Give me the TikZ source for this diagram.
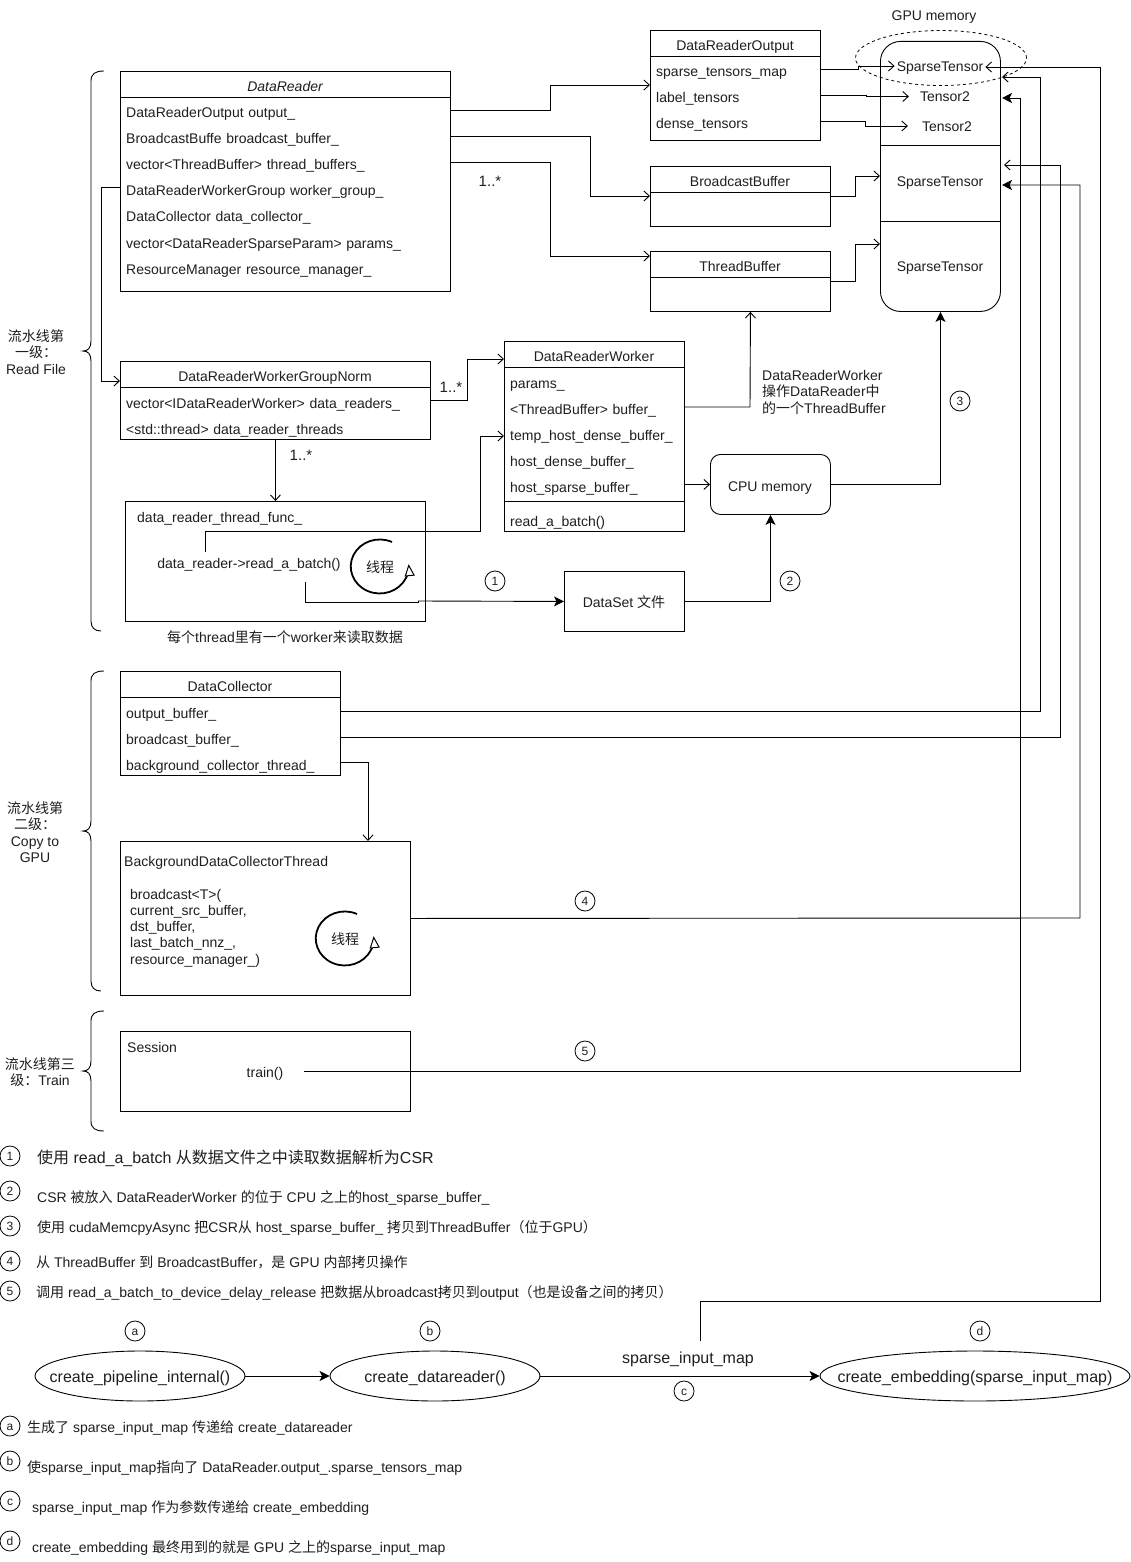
\documentclass[tikz,border=0pt]{standalone}
\usepackage{fontspec}
\setmainfont{Liberation Sans}
\newfontfamily\cjk{Noto Sans CJK SC}
\newcommand{\zh}[1]{{\cjk #1}}
\usetikzlibrary{arrows.meta,positioning,shapes.geometric}
\definecolor{ink}{gray}{0.12}
\tikzset{
  every node/.style={text=ink,font=\fontsize{14}{16.5}\selectfont,inner sep=0pt,text height=12pt,text depth=0pt},
  multiline/.style={text height=,text depth=},
  link/.style={draw=black,line width=0.9pt,-{Straight Barb[length=5.5pt,width=10pt,line width=0.9pt]}},
  solidlink/.style={draw=black,line width=0.9pt,-{Stealth[length=10pt,width=10pt,inset=2.5pt]}},
  plainline/.style={draw=black,line width=0.9pt},
  frame/.style={draw=black,line width=0.9pt,anchor=north west},
  row/.style={anchor=west,inner xsep=6pt,align=left,text width=#1},
  stepmark/.style={draw=black,line width=0.8pt,circle,minimum size=20pt,text height=8.5pt,font=\fontsize{12}{14}\selectfont},
  note/.style={anchor=west},
  oval/.style={draw=black,line width=0.9pt,ellipse,minimum height=50pt,font=\fontsize{16}{18}\selectfont},
  stagecap/.style={multiline,align=center},
  spinner/.style={line width=1.8pt,-{Triangle[open,fill=white,length=12pt,width=10pt,line width=1pt]}},
  cardinality/.style={font=\fontsize{15}{17}\selectfont},
}
\begin{document}
\begin{tikzpicture}[x=1pt,y=-1pt]
\useasboundingbox[fill=white] (0,0) rectangle (1131,1562);

% DataReader class
\node[frame,minimum width=330pt,minimum height=220pt] (dr) at (120,71) {};
\draw[plainline] (120,97) -- (450,97);
\node at (285,86) (drt) {\itshape DataReader};
\node[row=318pt] (dr1) at (120,112) {DataReaderOutput output\_};
\node[row=318pt] (dr2) at (120,138) {BroadcastBuffe broadcast\_buffer\_};
\node[row=318pt] (dr3) at (120,164) {vector<ThreadBuffer> thread\_buffers\_};
\node[row=318pt] (dr4) at (120,190) {DataReaderWorkerGroup worker\_group\_};
\node[row=318pt] (dr5) at (120,216) {DataCollector data\_collector\_};
\node[row=318pt] (dr6) at (120,242) {vector<DataReaderSparseParam> params\_};
\node[row=318pt] (dr7) at (120,268) {ResourceManager resource\_manager\_};
\node[cardinality] (m1) at (490,181) {1..*};

% DataReaderOutput class
\node[frame,minimum width=170pt,minimum height=110pt] (dro) at (650,30) {};
\draw[plainline] (650,56) -- (820,56);
\node at (735,45) (drot) {DataReaderOutput};
\node[row=158pt] (dro1) at (650,71) {sparse\_tensors\_map};
\node[row=158pt] (dro2) at (650,97) {label\_tensors};
\node[row=158pt] (dro3) at (650,123) {dense\_tensors};

% BroadcastBuffer and ThreadBuffer classes
\node[frame,minimum width=180pt,minimum height=60pt] (bb) at (650,166) {};
\draw[plainline] (650,192) -- (830,192);
\node at (740,181) (bbt) {BroadcastBuffer};
\node[frame,minimum width=180pt,minimum height=60pt] (tb) at (650,251) {};
\draw[plainline] (650,277) -- (830,277);
\node at (740,266) (tbt) {ThreadBuffer};

% GPU memory column
\node[frame,minimum width=120pt,minimum height=270pt,rounded corners=20pt] (gpu) at (880,41) {};
\draw[plainline] (880,145) -- (1000,145);
\draw[plainline] (880,221) -- (1000,221);
\node (gpulabel) at (934,15) {GPU memory};
\node[draw=black,line width=0.8pt,dashed,ellipse,minimum width=171pt,minimum height=55pt] (focus) at (941,58) {};
\node (st1) at (940,66) {SparseTensor};
\node (t1) at (945,96) {Tensor2};
\node (t2) at (947,126) {Tensor2};
\node (st2) at (940,181) {SparseTensor};
\node (st3) at (940,266) {SparseTensor};

% Worker group class
\node[frame,minimum width=310pt,minimum height=78pt] (grp) at (120,361) {};
\draw[plainline] (120,387) -- (430,387);
\node (grpt) at (275,375) {DataReaderWorkerGroupNorm};
\node[row=298pt] (grp1) at (120,402) {vector<IDataReaderWorker> data\_readers\_};
\node[row=298pt] (grp2) at (120,428) {<std::thread> data\_reader\_threads};
\node[cardinality] (m2) at (451,386) {1..*};
\node[cardinality] (m3) at (301,454) {1..*};

% Worker class
\node[frame,minimum width=180pt,minimum height=190pt] (w) at (504,341) {};
\draw[plainline] (504,367) -- (684,367);
\draw[plainline] (504,501) -- (684,501);
\node (wt) at (594,355) {DataReaderWorker};
\node[row=168pt] (w1) at (504,382) {params\_};
\node[row=168pt] (w2) at (504,408) {<ThreadBuffer> buffer\_};
\node[row=168pt] (w3) at (504,434) {temp\_host\_dense\_buffer\_};
\node[row=168pt] (w4) at (504,460) {host\_dense\_buffer\_};
\node[row=168pt] (w5) at (504,486) {host\_sparse\_buffer\_};
\node[row=168pt] (w6) at (504,520) {read\_a\_batch()};
\node[multiline,anchor=west,align=left] (wnote) at (762,392) {DataReaderWorker\\\zh{操作}DataReader\zh{中}\\\zh{的一个}ThreadBuffer};

% Thread function box
\node[frame,minimum width=300pt,minimum height=120pt] (fn) at (125,501) {};
\node[anchor=west] (fnt) at (137,516) {data\_reader\_thread\_func\_};
\node (fncall) at (249,562) {data\_reader->read\_a\_batch()};
\node (ring1t) at (380,566) {\zh{线程}};
\draw[spinner] (ring1t) ++(12,-24) arc[start angle=65,end angle=365,x radius=29pt,y radius=27pt];
\node (fncap) at (285,636) {\zh{每个}thread\zh{里有一个}worker\zh{来读取数据}};

% Memory and file
\node[frame,minimum width=120pt,minimum height=60pt,rounded corners=10pt] (cpu) at (710,454) {};
\node (cput) at (770,485) {CPU memory};
\node[frame,minimum width=120pt,minimum height=60pt] (ds) at (564,571) {};
\node (dst) at (624,601) {DataSet \zh{文件}};

% DataCollector class
\node[frame,minimum width=220pt,minimum height=104pt] (dc) at (120,671) {};
\draw[plainline] (120,697) -- (340,697);
\node (dct) at (230,685) {DataCollector};
\node[row=208pt] (dc1) at (120,712) {output\_buffer\_};
\node[row=208pt] (dc2) at (120,738) {broadcast\_buffer\_};
\node[row=208pt] (dc3) at (120,764) {background\_collector\_thread\_};

% Background collector thread box
\node[frame,minimum width=290pt,minimum height=154pt] (bg) at (120,841) {};
\node[anchor=west] (bgt) at (124,860) {BackgroundDataCollectorThread};
\node[multiline,anchor=north west,align=left,font=\fontsize{14}{16.2}\selectfont] (bgcode) at (130,889) {broadcast<T>(\\current\_src\_buffer,\\dst\_buffer,\\last\_batch\_nnz\_,\\resource\_manager\_)};
\node (ring2t) at (345,938) {\zh{线程}};
\draw[spinner] (ring2t) ++(12,-24) arc[start angle=65,end angle=365,x radius=29pt,y radius=27pt];

% Session box
\node[frame,minimum width=290pt,minimum height=80pt] (ses) at (120,1031) {};
\node[anchor=west] (sest) at (127,1046) {Session};
\node (train) at (265,1071) {train()};

% Pipeline stage labels with their braces
\node[stagecap] (s1) at (36,352) {\zh{流水线第}\\\zh{一级：}\\Read File};
\node[stagecap] (s2) at (35,832) {\zh{流水线第}\\\zh{二级：}\\Copy to\\GPU};
\node[stagecap] (s3) at (40,1072) {\zh{流水线第三}\\\zh{级：}Train};
\draw[plainline] (104,71) .. controls (95,71) and (91,74) .. (91,81) -- (91,341) .. controls (91,348) and (88,351) .. (83,351) .. controls (88,351) and (91,354) .. (91,361) -- (91,621) .. controls (91,628) and (95,631) .. (101,631);
\draw[plainline] (104,671) .. controls (95,671) and (91,674) .. (91,681) -- (91,821) .. controls (91,828) and (88,831) .. (83,831) .. controls (88,831) and (91,834) .. (91,841) -- (91,981) .. controls (91,988) and (95,991) .. (101,991);
\draw[plainline] (104,1011) .. controls (95,1011) and (91,1014) .. (91,1021) -- (91,1061) .. controls (91,1068) and (88,1071) .. (83,1071) .. controls (88,1071) and (91,1074) .. (91,1081) -- (91,1121) .. controls (91,1128) and (95,1131) .. (104,1131);

% Step marks
\node[stepmark] (n1) at (495,581) {1};
\node[stepmark] (n2) at (790,581) {2};
\node[stepmark] (n3) at (960,401) {3};
\node[stepmark] (n4) at (585,901) {4};
\node[stepmark] (n5) at (585,1051) {5};

% Connectors of the upper classes
\draw[link] ([yshift=2pt]dr1.east) -- (550,110) -- (550,85) -- (dro.west |- 0,85);
\draw[link] ([yshift=2pt]dr2.east) -- (590,136) -- (590,196) -- (bb.west |- 0,196);
\draw[link] ([yshift=2pt]dr3.east) -- (550,162) -- (550,256) -- (tb.west |- 0,256);
\draw[link] ([yshift=3pt]dr4.west) -- (101,187) -- (101,381) -- (grp.west |- 0,381);
\draw[link] ([yshift=2pt]grp1.east) -- (467,400) -- (467,359) -- (w.west |- 0,359);
\draw[link] (grp.south) -- (fn.north -| grp.south);
\draw[plainline] ([xshift=-44pt,yshift=4pt]fncall.north) -- (205,531) -- (480,531) -- (480,436);
\draw[link] (480,436) -- (w3.west |- 0,436);
\draw[plainline] ([xshift=56pt,yshift=-14pt]fncall.south) -- (305,602) -- (418,602) -- (418,601);
\draw[solidlink] (418,601) -- (ds.west);
\draw[link] ([yshift=1pt]w2.east) -- (750,407) -- ([xshift=10pt]tb.south);
\draw[link] (w5.east |- cpu.west) -- (cpu.west);
\draw[solidlink] (cpu.east) -| (gpu.south);
\draw[solidlink] (ds.east) -| (cpu.south);

% Connectors into the GPU column from the left
\draw[link] ([yshift=2pt]dro1.east) -- (858,69) -- (858,66) -- ([xshift=-2pt]st1.west);
\draw[link] ([yshift=1.5pt]dro2.east) -- (866,95.5) -- (866,96.5) -- ([xshift=-11pt,yshift=-0.5pt]t1.west);
\draw[link] ([yshift=1.5pt]dro3.east) -- (865,121.5) -- (865,126) -- ([xshift=-14pt]t2.west);
\draw[link] (bb.east |- 0,196) -- (855,196) -- (855,176) -- (gpu.west |- 0,176);
\draw[link] (tb.east |- 0,281) -- (855,281) -- (855,244) -- (gpu.west |- 0,244);

% Connectors into the GPU column from the right
\coordinate (in1) at (1002,77);
\coordinate (in2) at (1002,98);
\coordinate (in3) at (1004,165);
\coordinate (in4) at (1002,185);
\draw[link] ([yshift=1pt]dc1.east) -- (1040,711) -- (1040,77) -- (in1);
\draw[link] ([yshift=1pt]dc2.east) -- (1060,737) -- (1060,165) -- (in3);
\draw[link] ([yshift=2pt]dc3.east) -- (368,762) -- (368,841);
\draw[solidlink] (bg.east) -- (1080,918) -- (1080,185) -- (in4);
\draw[solidlink] ([xshift=21pt]train.east) -- (1020,1071) -- (1020,98) -- (in2);

% Call chain at the bottom
\node[oval,minimum width=210pt] (ca) at (140,1376) {\makebox[0pt][c]{create\_pipeline\_internal()}};
\node[oval,minimum width=210pt] (cb) at (435,1376) {\makebox[0pt][c]{create\_datareader()}};
\node[oval,minimum width=310pt] (cd) at (975,1376) {\makebox[0pt][c]{create\_embedding(sparse\_input\_map)}};
\node[font=\fontsize{16}{18}\selectfont] (mapl) at (688,1357) {sparse\_input\_map};
\node[stepmark] (la) at (135,1331) {a};
\node[stepmark] (lb) at (430,1331) {b};
\node[stepmark] (lc) at (684,1391) {c};
\node[stepmark] (ld) at (980,1331) {d};
\draw[solidlink] (ca) -- (cb);
\draw[solidlink] (cb) -- (cd);
\draw[link] (700,1341) -- (700,1301) -- (1100,1301) -- (1100,67) -- ([xshift=2pt,yshift=-1pt]st1.east);

% Legend of the numbered steps
\node[stepmark] (k1) at (10,1156) {1};
\node[stepmark] (k2) at (10,1191) {2};
\node[stepmark] (k3) at (10,1226) {3};
\node[stepmark] (k4) at (10,1261) {4};
\node[stepmark] (k5) at (10,1291) {5};
\node[note,font=\fontsize{16}{18}\selectfont] (t1n) at (37,1157) {\zh{使用} read\_a\_batch \zh{从数据文件之中读取数据解析为}CSR};
\node[note] (t2n) at (37,1196) {CSR \zh{被放入} DataReaderWorker \zh{的位于} CPU \zh{之上的}host\_sparse\_buffer\_};
\node[note] (t3n) at (37,1226) {\zh{使用} cudaMemcpyAsync \zh{把}CSR\zh{从} host\_sparse\_buffer\_ \zh{拷贝到}ThreadBuffer\zh{（位于}GPU\zh{）}};
\node[note] (t4n) at (36,1261) {\zh{从} ThreadBuffer \zh{到} BroadcastBuffer\zh{，是} GPU \zh{内部拷贝操作}};
\node[note] (t5n) at (36,1291) {\zh{调用} read\_a\_batch\_to\_device\_delay\_release \zh{把数据从}broadcast\zh{拷贝到}output\zh{（也是设备之间的拷贝）}};

% Legend of the lettered calls
\node[stepmark] (ka) at (10,1426) {a};
\node[stepmark] (kb) at (10,1461) {b};
\node[stepmark] (kc) at (10,1501) {c};
\node[stepmark] (kd) at (10,1541) {d};
\node[note] (tan) at (27,1426) {\zh{生成了} sparse\_input\_map \zh{传递给} create\_datareader};
\node[note] (tbn) at (27,1466) {\zh{使}sparse\_input\_map\zh{指向了} DataReader.output\_.sparse\_tensors\_map};
\node[note] (tcn) at (32,1506) {sparse\_input\_map \zh{作为参数传递给} create\_embedding};
\node[note] (tdn) at (32,1546) {create\_embedding \zh{最终用到的就是} GPU \zh{之上的}sparse\_input\_map};
\end{tikzpicture}
\end{document}
